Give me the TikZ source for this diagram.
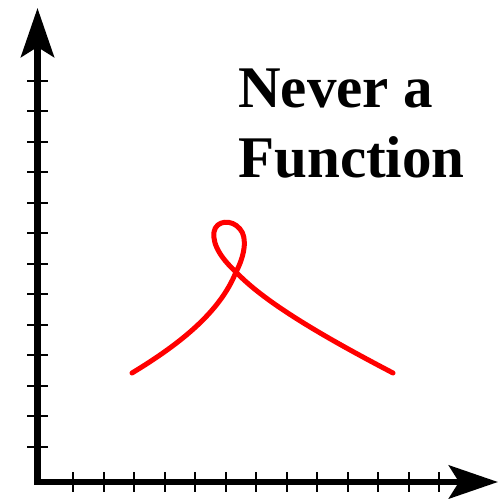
\documentclass[tikz,border=0pt]{standalone}
\usepackage{fontspec}
\setmainfont{Liberation Serif}
\usetikzlibrary{arrows.meta}
\tikzstyle{axis} = [
    line width=0.14cm,
    <->,
    >={Stealth[length=0.98cm,width=0.66cm,inset=0.2cm]}
]
\tikzstyle{tickmark} = [line width=0.04cm]
\tikzstyle{curve} = [
    red,
    line width=0.1cm,
    line cap=round,
    line join=round
]
\tikzstyle{heading} = [
    font=\fontsize{33.6}{40}\selectfont\bfseries,
    inner sep=0pt,
    anchor=base west
]

\begin{document}
\begin{tikzpicture}[x=0.02cm, y=-0.02cm]
\useasboundingbox (0,0) rectangle (500,499);

% axes
\coordinate (top) at (37.5,8);
\coordinate (origin) at (37.5,482);
\coordinate (right) at (498,482);
\draw [axis] (top) -- (origin) -- (right);

% ticks
\foreach \k in {0,...,12} {
    \draw [tickmark] (73+30.5*\k,472) -- (73+30.5*\k,492);
    \draw [tickmark] (27,447-30.5*\k) -- (48,447-30.5*\k);
}

% curve with a loop
\coordinate (start) at (132,373);
\coordinate (cross) at (236,272);
\coordinate (end) at (393,373);
\draw [curve] (start) .. controls (180,344) and (220,312) .. (cross)
    .. controls (244,257) and (248,238) .. (240,229)
    .. controls (232,219) and (216,220) .. (214,232)
    .. controls (212,246) and (224,261) .. (cross)
    .. controls (266,304) and (330,340) .. (end);

% text
\node (never) [heading] at (238,108) {Never a};
\node (function) [heading] at (238,178) {Function};

\end{tikzpicture}
\end{document}
